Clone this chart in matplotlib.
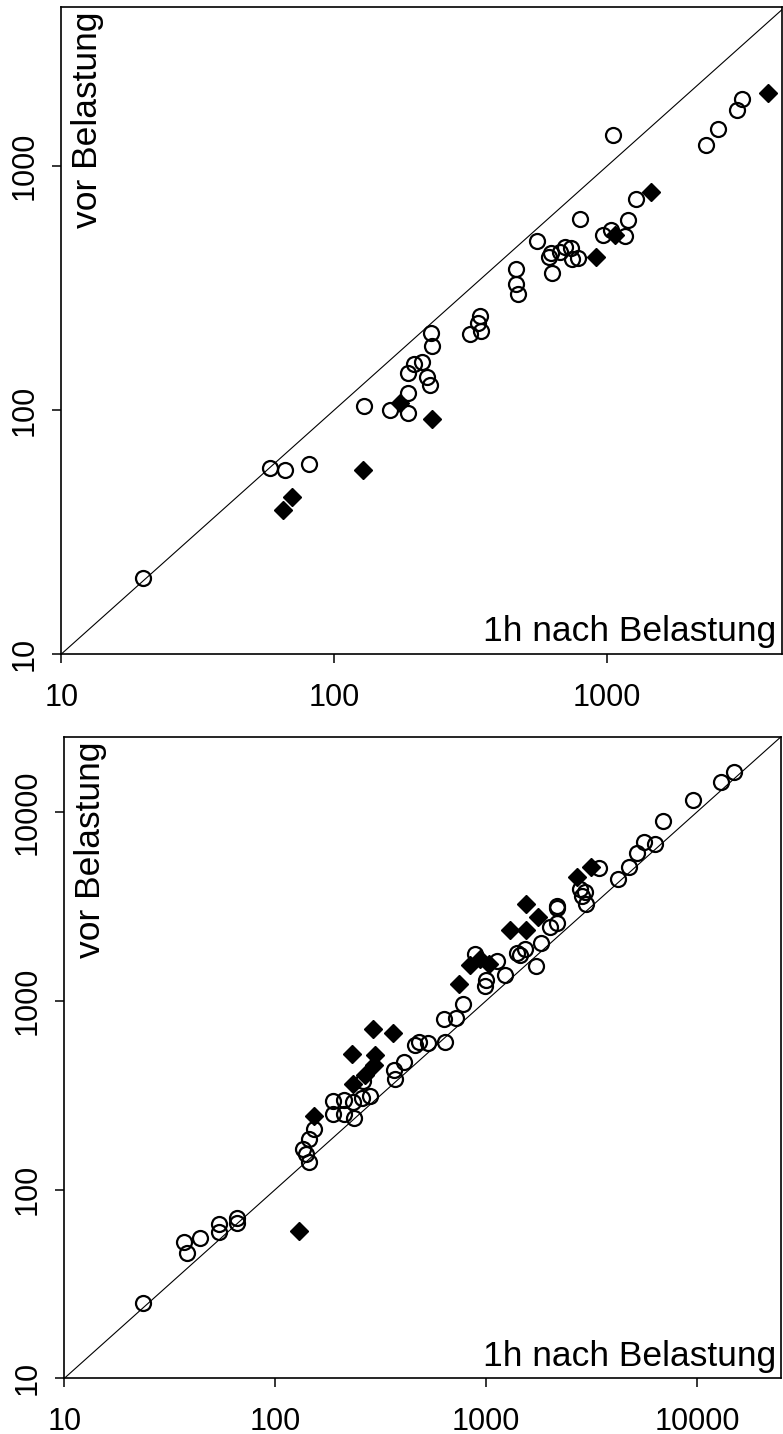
import matplotlib
matplotlib.use("Agg")
import matplotlib.pyplot as plt

plt.rcParams['font.family'] = ['Liberation Sans', 'DejaVu Sans']

# oberes Diagramm
top_open_x = [20, 58, 66, 81, 129, 160, 186, 186, 187, 196, 209, 219, 224, 227, 229,
              314, 337, 343, 346, 463, 462, 472, 553, 613, 622, 626, 671, 700, 740,
              741, 783, 794, 967, 1034, 1166, 1194, 1274, 1052, 2300, 2550, 2990, 3110]
top_open_y = [20.5, 58, 57, 60, 104, 100, 97, 117, 142, 154, 157, 137, 127, 206, 183,
              204, 228, 243, 210, 378, 328, 298, 495, 425, 441, 363, 444, 467, 460,
              414, 419, 608, 520, 548, 518, 603, 730, 1340, 1220, 1420, 1700, 1880]
top_filled_x = [65, 70, 128, 174, 229, 914, 1070, 1450, 3890]
top_filled_y = [39, 44, 57, 107, 92, 422, 521, 780, 2000]
top_ticks = [10, 100, 1000]
top_xmax = 4360
top_ymax = 4470

# unteres Diagramm
bot_open_x = [23.5, 37, 38, 44, 54, 54, 66, 66, 145, 140, 135, 144, 152, 187, 187,
              211, 211, 237, 233, 257, 283, 262, 364, 406, 371, 478, 461, 533, 640,
              632, 722, 781, 888, 1125, 996, 985, 1232, 1400, 1446, 1525, 1821, 1729,
              2015, 2167, 2160, 2170, 2773, 2952, 2848, 2991, 3414, 4200, 4740, 5170,
              5580, 6290, 6880, 9600, 12940, 14900]
bot_open_y = [25, 53, 46, 55.5, 65.5, 59.5, 71, 66.5, 140, 155, 163, 186, 208, 294, 251,
              298, 252, 238, 291, 306, 312, 377, 428, 473, 387, 604, 580, 597, 604,
              803, 806, 964, 1774, 1614, 1291, 1201, 1373, 1780, 1737, 1884, 2017, 1519,
              2450, 2586, 3090, 3190, 3914, 3755, 3594, 3261, 5073, 4420, 5090, 6040,
              6960, 6770, 8900, 11600, 14460, 16200]
bot_filled_x = [129, 153, 235, 267, 295, 231, 298, 290, 361, 746, 840, 938, 1027,
                1300, 1553, 1545, 1767, 2690, 3134]
bot_filled_y = [60, 246, 364, 402, 455, 520, 518, 711, 674, 1230, 1538, 1668, 1570,
                2375, 2375, 3245, 2793, 4546, 5092]
bot_ticks = [10, 100, 1000, 10000]
bot_max = 25000


def panel(ax, ox, oy, fx, fy, ticks, xmax, ymax):
    ax.set_xscale('log')
    ax.set_yscale('log')
    # Winkelhalbierende
    ax.plot([10, max(xmax, ymax)], [10, max(xmax, ymax)], color='black', lw=0.8, zorder=1)
    ax.plot(ox, oy, 'o', mfc='none', mec='black', ms=10.8, mew=1.6, zorder=2)
    ax.plot(fx, fy, 'D', mfc='black', mec='black', ms=9, mew=1, zorder=3)
    ax.set_xlim(10, xmax)
    ax.set_ylim(10, ymax)
    ax.minorticks_off()
    ax.set_xticks(ticks)
    ax.set_xticklabels([str(t) for t in ticks])
    ax.set_yticks(ticks)
    ax.set_yticklabels([str(t) for t in ticks], rotation=90, va='center')
    ax.tick_params(direction='out', length=6.5, width=1.1, labelsize=22)
    ax.tick_params(axis='x', pad=14)
    ax.tick_params(axis='y', pad=9)
    for s in ax.spines.values():
        s.set_linewidth(1.2)
    ax.text(0.014, 0.993, 'vor Belastung', transform=ax.transAxes, rotation=90,
            ha='left', va='top', fontsize=25.5)
    ax.text(0.993, 0.02, '1h nach Belastung', transform=ax.transAxes,
            ha='right', va='baseline', fontsize=25.5)


fig = plt.figure(figsize=(7.83, 14.34), dpi=100)
ax1 = fig.add_axes([0.0783, 0.5439, 0.920, 0.451])
panel(ax1, top_open_x, top_open_y, top_filled_x, top_filled_y, top_ticks, top_xmax, top_ymax)

ax2 = fig.add_axes([0.0821, 0.0388, 0.9153, 0.4474])
panel(ax2, bot_open_x, bot_open_y, bot_filled_x, bot_filled_y, bot_ticks, bot_max, bot_max)

fig.savefig('out.png', dpi=100)
